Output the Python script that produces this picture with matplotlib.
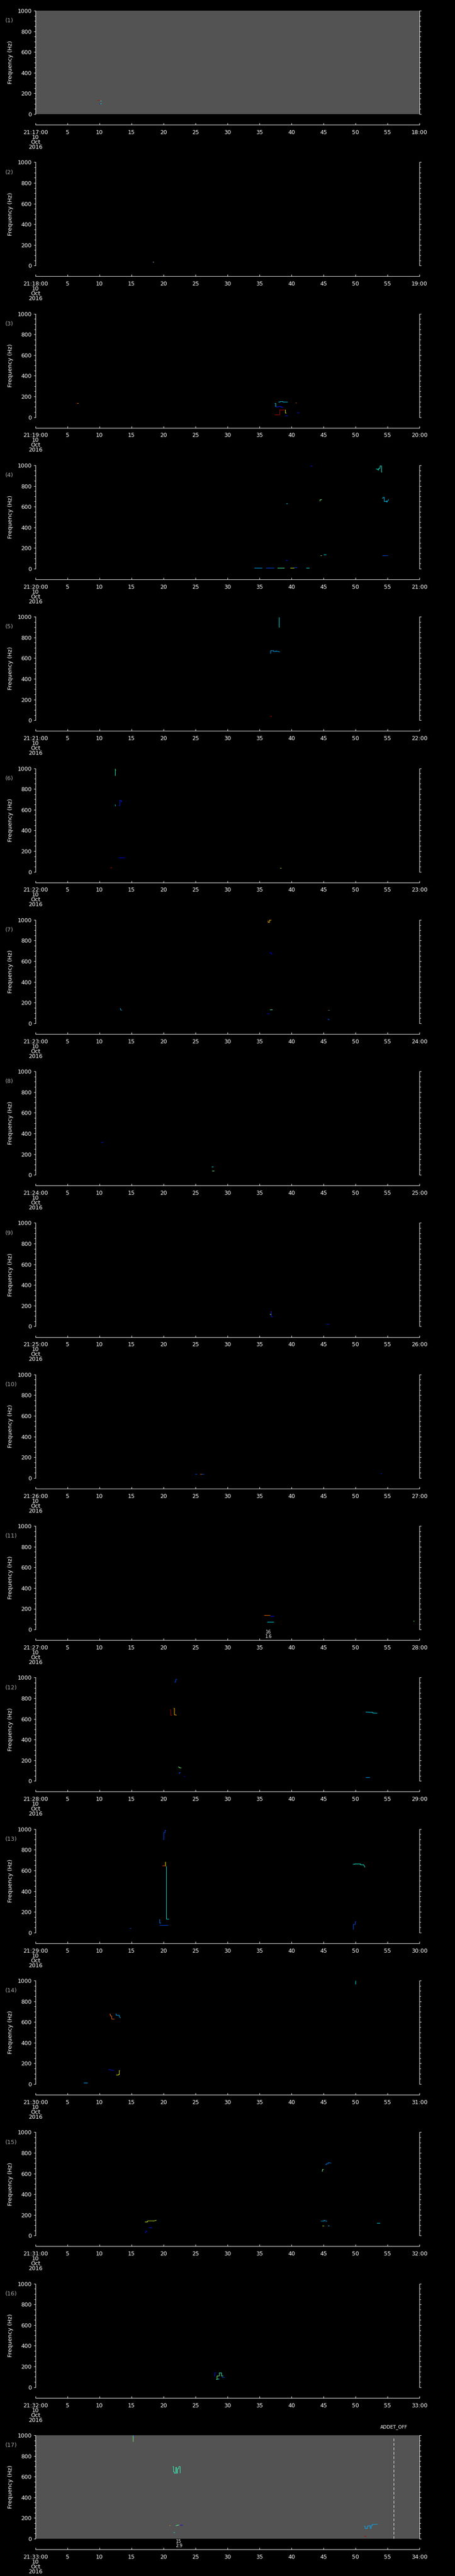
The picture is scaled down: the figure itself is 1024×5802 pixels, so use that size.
import matplotlib
matplotlib.use('Agg')
import matplotlib.pyplot as plt
import matplotlib.transforms as mtransforms

# figure size in pixels
W, H = 1024, 5802
DPI = 100

plt.rcParams['font.family'] = ['DejaVu Sans']
plt.rcParams['lines.scale_dashes'] = False

# one minute of data per panel, start minute after 21:00
start_minutes = list(range(17, 34))
gray_panels = [1, 17]
freq_ticks = [0, 200, 400, 600, 800, 1000]
sec_ticks = list(range(0, 61, 5))
date_lines = ['10', 'Oct', '2016']

# traces: (seconds into minute, frequency Hz, colour level on jet scale)
p01 = [([9.7, 10.0, 10.1], [132, 132, 131], 0.95), ([10.1, 10.3], [130, 130], 0.36),
       ([9.9, 10.1], [105, 105], 0.12), ([10.1, 10.25], [105, 105], 0.36)]
p02 = [([18.2, 18.3], [37, 37], 0.15), ([18.3, 18.45], [37, 37], 0.65)]
p03 = [([6.35, 6.5], [137, 137], 0.95), ([6.5, 6.65], [137, 137], 0.65),
       ([37.35, 37.5, 37.5], [135, 135, 100], 0.36),
       ([37.5, 38.0, 38.0, 38.3, 38.3, 38.7], [100, 100, 106, 106, 98, 98], 0.15),
       ([37.9, 38.2, 38.2, 38.6, 38.6, 39.4], [150, 150, 155, 155, 148, 148], 0.33),
       ([37.35, 38.1, 38.1, 38.9], [23, 23, 73, 73], 0.95),
       ([38.95, 39.0, 39.0, 39.2], [73, 73, 40, 40], 0.65),
       ([39.0, 39.4], [16, 16], 0.15), ([40.65, 40.75], [139, 139], 0.8),
       ([40.8, 41.15], [44, 44], 0.15)]
p04 = [([34.2, 35.4], [7, 7], 0.3), ([36.0, 37.3], [7, 7], 0.2), ([37.8, 38.9], [7, 7], 0.45),
       ([39.8, 40.4], [7, 7], 0.62), ([40.4, 40.9], [9, 10], 0.2), ([42.3, 42.8], [7, 7], 0.36),
       ([39.1, 39.4], [81, 78], 0.15), ([39.2, 39.4], [630, 630], 0.36),
       ([43.0, 43.3], [993, 990], 0.15),
       ([44.4, 44.45, 44.45, 44.7], [655, 655, 670, 670], 0.5),
       ([44.5, 44.7], [130, 130], 0.55), ([45.0, 45.4], [137, 137], 0.35),
       ([53.2, 53.5, 53.5, 53.6, 53.6, 53.8, 53.8, 54.0, 54.0, 54.1],
        [965, 965, 955, 955, 975, 975, 997, 997, 935, 935], 0.38),
       ([54.2, 54.3, 54.3, 54.5, 54.5, 54.8, 54.8, 54.9, 54.9, 55.2],
        [680, 680, 690, 690, 650, 650, 655, 655, 643, 670], 0.33),
       ([54.2, 55.1], [127, 127], 0.2)]
p05 = [([38.05, 38.05], [998, 897], 0.36),
       ([36.7, 36.75, 36.75, 37.2, 37.2, 37.6, 37.6, 38.2],
        [646, 646, 672, 672, 665, 665, 670, 660], 0.3),
       ([36.7, 36.85], [40, 40], 0.9)]
p06 = [([12.45, 12.45], [1000, 929], 0.4), ([12.5, 12.6], [985, 985], 0.65),
       ([12.45, 12.5, 12.5], [650, 633, 633], 0.35),
       ([13.0, 13.1, 13.1, 13.3, 13.3, 13.5], [640, 640, 695, 695, 680, 680], 0.15),
       ([13.0, 14.0], [134, 136], 0.12), ([11.7, 11.9], [40, 40], 0.9),
       ([38.2, 38.4], [37, 37], 0.6)]
p07 = [([36.3, 36.35, 36.35, 36.5, 36.5, 36.8], [995, 995, 978, 978, 1000, 1000], 0.7),
       ([36.6, 36.7, 36.7, 36.9, 36.9, 37.0], [683, 683, 678, 678, 668, 667], 0.12),
       ([13.2, 13.3, 13.3, 13.5], [142, 142, 130, 126], 0.3),
       ([36.6, 37.0], [132, 132], 0.45), ([36.2, 36.5], [94, 94], 0.15),
       ([45.6, 45.75], [129, 129], 0.95), ([45.75, 45.9], [127, 127], 0.36),
       ([45.6, 45.75, 45.75, 45.9], [42, 42, 38, 38], 0.2)]
p08 = [([10.25, 10.6], [313, 315], 0.15), ([27.5, 27.8], [78, 78], 0.38),
       ([27.55, 27.9], [39, 39], 0.5)]
p09 = [([36.7, 36.9], [145, 145], 0.95), ([36.85, 36.85, 37.1], [145, 95, 93], 0.15),
       ([36.6, 36.8], [120, 120], 0.6), ([45.5, 45.8], [23, 23], 0.15)]
p10 = [([24.95, 25.2], [36, 36], 0.2), ([25.7, 26.0], [36, 36], 0.8),
       ([26.0, 26.3], [36, 36], 0.2), ([53.9, 54.1], [42, 42], 0.15)]
p11 = [([35.7, 36.7], [136, 136], 0.8), ([36.7, 37.3], [130, 130], 0.15),
       ([36.2, 37.2], [72, 72], 0.35), ([59.05, 59.2], [81, 81], 0.5)]
p12 = [([21.7, 21.9, 21.9, 22.05], [960, 960, 985, 985], 0.2),
       ([21.05, 21.1, 21.1, 21.35], [691, 691, 636, 636], 0.95),
       ([21.6, 21.7, 21.7, 22.05], [703, 703, 640, 636], 0.72),
       ([51.6, 52.1, 52.1, 52.7, 52.7, 53.4], [666, 666, 664, 664, 657, 655], 0.35),
       ([22.3, 22.45, 22.45, 22.8], [136, 136, 128, 126], 0.5),
       ([22.4, 22.45, 22.45, 22.65], [71, 71, 84, 84], 0.2),
       ([23.1, 23.35], [48, 48], 0.12), ([51.6, 52.2], [37, 37], 0.3)]
p13 = [([19.9, 20.0, 20.0, 20.2, 20.2, 20.35], [898, 898, 970, 970, 989, 989], 0.2),
       ([19.8, 20.2], [645, 645], 0.85), ([20.25, 20.25], [643, 685], 0.65),
       ([20.45, 20.45, 20.8], [643, 131, 131], 0.36),
       ([19.3, 19.35, 19.35, 19.6], [128, 128, 94, 94], 0.25),
       ([19.4, 20.7], [71, 71], 0.2), ([14.7, 14.9], [42, 42], 0.2),
       ([49.6, 49.9, 49.9, 50.8, 50.8, 51.3, 51.3, 51.5],
        [660, 660, 663, 663, 655, 655, 652, 630], 0.38),
       ([49.6, 49.65, 49.65, 49.9, 49.9, 50.1], [31, 31, 80, 80, 104, 104], 0.2)]
p14 = [([50.0, 50.0], [965, 1000], 0.36),
       ([11.55, 11.7, 11.7, 11.9, 11.9, 12.3], [679, 679, 660, 660, 631, 631], 0.8),
       ([12.55, 12.6, 12.6, 13.1, 13.1, 13.3], [679, 679, 665, 665, 650, 639], 0.3),
       ([11.4, 12.25], [140, 132], 0.15),
       ([12.55, 12.95, 12.95, 13.05, 13.05, 13.15], [89, 89, 95, 95, 135, 135], 0.65),
       ([7.5, 8.1], [15, 15], 0.3)]
p15 = [([45.3, 45.5, 45.5, 45.8, 45.8, 46.2], [687, 687, 697, 697, 707, 700], 0.25),
       ([44.7, 44.8, 44.8, 45.0], [623, 623, 641, 641], 0.5),
       ([17.1, 17.5, 17.5, 18.4, 18.4, 18.9], [132, 132, 142, 142, 140, 148], 0.6),
       ([17.7, 18.2], [79, 79], 0.15),
       ([17.1, 17.2, 17.2, 17.45], [33, 33, 46, 46], 0.15),
       ([44.6, 45.1, 45.1, 45.55], [140, 140, 148, 137], 0.3),
       ([44.8, 45.1], [97, 97], 0.6), ([45.7, 45.9], [97, 97], 0.36),
       ([53.35, 53.8], [122, 122], 0.35)]
p16 = [([27.9, 28.0, 28.0, 28.2], [110, 110, 140, 140], 0.15),
       ([28.2, 28.35, 28.35, 28.6], [76, 76, 110, 110], 0.5),
       ([28.6, 28.65, 28.65, 29.0, 29.0, 29.3], [110, 110, 140, 140, 110, 110], 0.42),
       ([29.1, 29.5], [96, 96], 0.2), ([28.3, 28.7], [78, 78], 0.36)]
p17 = [([15.25, 15.25, 15.4], [937, 996, 998], 0.5), ([15.3, 15.45], [1000, 990], 0.15),
       ([21.4, 21.5, 21.5, 21.65, 21.65, 21.9, 21.9, 22.0, 22.0, 22.15, 22.15, 22.35, 22.35, 22.6, 22.6],
        [700, 700, 650, 650, 637, 637, 690, 690, 637, 637, 680, 680, 700, 700, 637], 0.42),
       ([20.9, 21.05], [130, 130], 0.75),
       ([21.9, 22.1, 22.1, 22.4], [127, 127, 133, 133], 0.45),
       ([22.4, 22.6], [130, 130], 0.95), ([22.6, 23.0], [133, 133], 0.1),
       ([21.5, 21.75], [62, 62], 0.36),
       ([51.35, 51.5, 51.5, 51.7, 51.7, 51.85, 51.85, 52.0, 52.0, 52.3, 52.3, 52.45, 52.45, 52.6, 52.6, 53.45],
        [120, 120, 100, 100, 97, 97, 120, 120, 125, 125, 100, 100, 125, 125, 137, 140], 0.3),
       ([51.35, 51.7], [26, 26], 0.95)]
panel_marks = [p01, p02, p03, p04, p05, p06, p07, p08, p09, p10,
               p11, p12, p13, p14, p15, p16, p17]

# small labels under some panels: (panel, seconds, text)
event_labels = [(11, 36.4, '16\n1.6'), (17, 22.4, '15\n2.9')]
flag_panel, flag_sec, flag_text = 17, 56.0, 'ADDET_OFF'

# layout in pixels
TOP0, PITCH, AX_H = 24, 341.31, 233
LEFT, AX_W = 80, 864

jet = plt.get_cmap('jet')
fig = plt.figure(figsize=(W / DPI, H / DPI), dpi=DPI, facecolor='black')

for i, marks in enumerate(panel_marks):
    num = i + 1
    minute = start_minutes[i]
    top = TOP0 + i * PITCH
    ax = fig.add_axes([LEFT / W, 1 - (top + AX_H) / H, AX_W / W, AX_H / H])
    ax.set_facecolor('#535353' if num in gray_panels else 'black')

    for t, f, lev in marks:
        ax.plot(t, f, color=jet(lev), lw=0.75, solid_capstyle='butt')

    ax.set_xlim(0, 60)
    ax.set_ylim(0, 1000)
    ax.spines['top'].set_visible(False)
    ax.spines['bottom'].set_position(('outward', 17.3))
    for s in ax.spines.values():
        s.set_color('white')
        s.set_linewidth(0.75)

    ax.set_yticks(freq_ticks)
    ax.set_yticks(range(0, 1001, 50), minor=True)
    ax.tick_params(axis='y', which='both', direction='out', colors='white',
                   left=True, right=True, labelright=False, labelsize=9,
                   width=0.75, pad=3.2)
    ax.tick_params(axis='y', which='major', length=3.1)
    ax.tick_params(axis='y', which='minor', length=1.95)

    labels = [str(s) for s in sec_ticks]
    labels[0] = '21:%02d:00\n' % minute + '\n'.join(date_lines)
    labels[-1] = '%02d:00' % (minute + 1)
    ax.set_xticks(sec_ticks, labels)
    ax.tick_params(axis='x', direction='in', length=3, width=0.75, colors='white',
                   labelsize=9, pad=7.8)
    for lbl in ax.get_xticklabels():
        lbl.set_linespacing(0.8)

    fig.text(23.3 / W, 1 - (top + AX_H / 2) / H, 'Frequency (Hz)', rotation=90,
             ha='center', va='center', color='white', fontsize=9.3)
    fig.text(11.5 / W, 1 - (top + 22.7) / H, '(%d)' % num, ha='left', va='center',
             color='#a8a8a8', fontsize=9.3)

    for pnum, sec, txt in event_labels:
        if pnum == num:
            ax.annotate(txt, xy=(sec, 0), xycoords=('data', 'axes fraction'),
                        xytext=(0, -1.0), textcoords='offset points', ha='center',
                        va='top', color='white', fontsize=7, linespacing=0.95)

    if num == flag_panel:
        ax.axvline(flag_sec, ymin=0, ymax=0.983, color='white', lw=0.75, dashes=(4.3, 2.9))
        trans = mtransforms.blended_transform_factory(ax.transData, ax.transAxes)
        ax.text(flag_sec, 1 + 18.3 / AX_H, flag_text, transform=trans, ha='center',
                va='center', color='white', fontsize=7.5)

fig.savefig('out.png', dpi=DPI, facecolor='black')
